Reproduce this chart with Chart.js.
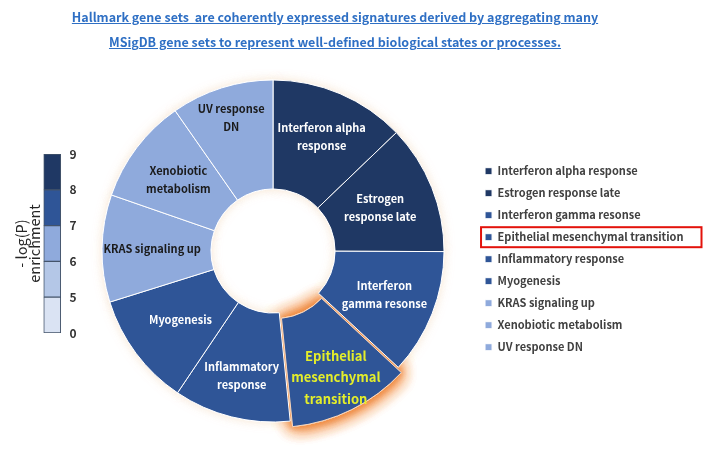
<!DOCTYPE html>
<html>
<head>
<meta charset="utf-8">
<title>Hallmark gene sets</title>
<script src="https://cdn.jsdelivr.net/npm/chart.js@4.4.1/dist/chart.umd.min.js"></script>
<style>
  body { margin: 0; width: 709px; height: 458px; overflow: hidden; background: #fff; position: relative;
         font-family: 'Noto Sans CJK KR', 'Noto Sans', sans-serif; }
  .title { position: absolute; left: 0; top: 4px; width: 670px; text-align: center; color: #2e6fc4;
           font-weight: bold; font-size: 12.5px; line-height: 25px; }
  .title span { text-decoration: underline; }
  #donut { position: absolute; left: 0; top: 0; }
  #scale { position: absolute; left: 2px; top: 130px; }
</style>
</head>
<body>
<canvas id="donut" width="709" height="458"></canvas>
<canvas id="scale" width="92" height="220"></canvas>
<div class="title"><span>Hallmark gene sets&nbsp; are coherently expressed signatures derived by aggregating many</span><br><span>MSigDB gene sets to represent well-defined biological states or processes.</span></div>
<script>
const FONT = "'Noto Sans CJK KR', 'Noto Sans', sans-serif";

// hallmark sets, clockwise from 12 o'clock
const categories = [
    'Interferon alpha response',
    'Estrogen response late',
    'Interferon gamma resonse',
    'Epithelial mesenchymal transition',
    'Inflammatory response',
    'Myogenesis',
    'KRAS signaling up',
    'Xenobiotic metabolism',
    'UV response DN'
];
// -log(P) enrichment (slice size and colour bin)
const enrichment = [8.6, 8.2, 7.95, 7.7, 7.4, 7.2, 6.8, 6.7, 6.5];
// text written inside each slice
const sliceText = [
    ['Interferon alpha', 'response'],
    ['Estrogen', 'response late'],
    ['Interferon', 'gamma resonse'],
    ['Epithelial', 'mesenchymal', 'transition'],
    ['Inflammatory', 'response'],
    ['Myogenesis'],
    ['KRAS signaling up'],
    ['Xenobiotic', 'metabolism'],
    ['UV response', 'DN']
];
const highlight = 3;

// colour scale
const scaleTicks = ['0', '5', '6', '7', '8', '9'];
const scaleBins = [5, 6, 7, 8, 9];
const binColors = ['#dae3f3', '#b4c7e7', '#8faadc', '#2f5597', '#1f3864'];

// where across the ring each slice text sits (0 = hole edge, 1 = outer edge)
const textDepth = [0.57, 0.49, 0.53, 0.56, 0.61, 0.49, 0.54, 0.52, 0.71];

function binColor(v) {
    let i = scaleBins.findIndex(b => v < b);
    if (i < 0) i = binColors.length - 1;
    return binColors[i];
}

// orange glow under the highlighted slice + faint halo round the ring
const glowPlugin = {
    id: 'glow',
    beforeDatasetDraw(chart) {
        const ctx = chart.ctx;
        const arcs = chart.getDatasetMeta(0).data;
        ctx.save();
        ctx.shadowColor = 'rgba(240, 210, 175, 0.55)';
        ctx.shadowBlur = 10;
        arcs.forEach(a => a.draw(ctx));
        ctx.shadowColor = 'rgba(240, 135, 60, 0.95)';
        ctx.shadowBlur = 18;
        arcs[highlight].draw(ctx);
        arcs[highlight].draw(ctx);
        arcs[highlight].draw(ctx);
        ctx.shadowBlur = 6;
        arcs[highlight].draw(ctx);
        ctx.restore();
    }
};

const sliceLabelPlugin = {
    id: 'sliceLabels',
    afterDatasetsDraw(chart) {
        const ctx = chart.ctx;
        chart.getDatasetMeta(0).data.forEach((arc, i) => {
            const p = arc.getProps(['x', 'y', 'startAngle', 'endAngle', 'innerRadius', 'outerRadius'], true);
            const mid = (p.startAngle + p.endAngle) / 2;
            const r = p.innerRadius + (p.outerRadius - p.innerRadius) * textDepth[i] + (arc.options.offset || 0);
            const cx = p.x + Math.cos(mid) * r;
            const cy = p.y + Math.sin(mid) * r;
            const big = i === highlight;
            const lh = big ? 21.5 : 18;
            const lines = sliceText[i];
            ctx.save();
            ctx.font = 'bold ' + (big ? 13 : 11) + 'px ' + FONT;
            ctx.fillStyle = big ? '#e4ee2a' : (enrichment[i] < 7 ? '#1a1a1a' : '#ffffff');
            ctx.textAlign = 'center';
            ctx.textBaseline = 'middle';
            lines.forEach((t, k) => ctx.fillText(t, cx, cy + (k - (lines.length - 1) / 2) * lh));
            ctx.restore();
        });
    }
};

// red frame round the highlighted legend entry
const legendMarkPlugin = {
    id: 'legendMark',
    afterDraw(chart) {
        const hb = chart.legend.legendHitBoxes[highlight];
        const ctx = chart.ctx;
        ctx.save();
        ctx.strokeStyle = '#e3120b';
        ctx.lineWidth = 2;
        ctx.strokeRect(hb.left - 4, hb.top - 4.5, hb.width + 22, hb.height + 9);
        ctx.restore();
    }
};

new Chart(document.getElementById('donut'), {
    type: 'doughnut',
    data: {
        labels: categories,
        datasets: [{
            data: enrichment,
            backgroundColor: enrichment.map(binColor),
            borderColor: categories.map((c, i) => i === highlight ? '#f9d5b9' : '#ffffff'),
            borderWidth: 1,
            offset: categories.map((c, i) => i === highlight ? 18 : 0),
            hoverOffset: 0
        }]
    },
    options: {
        responsive: false,
        animation: false,
        radius: 171,
        cutout: '36.3%',
        layout: { padding: { left: 72, right: 15.5, top: 70, bottom: 26 } },
        plugins: {
            legend: {
                position: 'right',
                align: 'center',
                title: { display: true, text: '', font: { size: 12 }, padding: { top: 1, bottom: 1 } },
                labels: {
                    boxWidth: 7,
                    boxHeight: 7,
                    padding: 11,
                    color: '#404040',
                    font: { family: FONT, size: 11, weight: 'bold' },
                    generateLabels(chart) {
                        const items = Chart.overrides.doughnut.plugins.legend.labels.generateLabels(chart);
                        items.forEach(it => { it.strokeStyle = '#ffffff'; });
                        return items;
                    }
                }
            },
            tooltip: { enabled: false }
        }
    },
    plugins: [glowPlugin, sliceLabelPlugin, legendMarkPlugin]
});

// colour bar on the left
new Chart(document.getElementById('scale'), {
    type: 'bar',
    data: {
        labels: [''],
        datasets: binColors.map(c => ({
            data: [1],
            backgroundColor: c,
            borderColor: '#44546a',
            borderWidth: 1,
            borderSkipped: false,
            barThickness: 17
        }))
    },
    options: {
        responsive: false,
        animation: false,
        layout: { padding: { top: 24, bottom: 17, right: 14.5, left: 13 } },
        plugins: {
            legend: { display: false },
            tooltip: { enabled: false },
            title: {
                display: true,
                position: 'left',
                text: ['- log(P)', 'enrichment'],
                color: '#262626',
                font: { family: FONT, size: 14.5, weight: 'normal', lineHeight: 0.9 },
                padding: 0
            }
        },
        scales: {
            x: { display: false, stacked: true },
            y: {
                stacked: true,
                position: 'right',
                min: 0,
                max: scaleTicks.length - 1,
                grid: { display: false, drawTicks: false },
                border: { display: false },
                ticks: {
                    stepSize: 1,
                    padding: 6,
                    color: '#333333',
                    font: { family: FONT, size: 12, weight: 'bold' },
                    callback: v => scaleTicks[v]
                }
            }
        }
    }
});
</script>
</body>
</html>
